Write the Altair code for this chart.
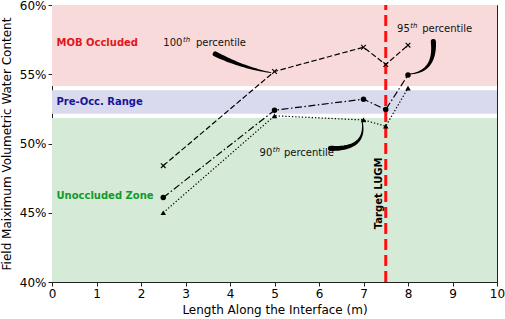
import altair as alt
import pandas as pd
import numpy as np

# ---- data ----
x_pts = [2.5, 5.0, 7.0, 7.5, 8.0]
p100 = [48.4, 55.2, 56.95, 55.7, 57.1]
p95 = [46.1, 52.4, 53.2, 52.45, 54.95]
p90 = [45.0, 52.0, 51.7, 51.25, 54.0]

band_names = ["MOB Occluded", "Pre-Occ. Range", "Unoccluded Zone"]
band_lo = [54.15, 52.15, 40.0]
band_hi = [60.0, 53.85, 51.85]
band_fill = ["#f9dada", "#dadaee", "#d5ebd8"]
band_text_color = ["#e3151c", "#15159a", "#14992a"]
band_text_y = [57.25, 53.0, 46.2]

target_x = 7.5

# annotation arrows: tail, mid, head (data coords)
arrow_ids = ["a100", "a95", "a90"]
arrow_tail = [(3.67, 56.46), (8.57, 57.35), (6.26, 49.65)]
arrow_mid = [(4.30, 55.62), (8.46, 55.67), (6.86, 50.13)]
arrow_head = [(4.92, 55.12), (8.03, 55.02), (6.96, 51.75)]

# percentile labels: anchor (right edge of number), number, offset of "percentile"
lab_num = ["100", "95", "90"]
lab_x = [2.93, 8.04, 4.95]
lab_y = [57.25, 58.24, 49.29]
lab_dx = [13.5, 12.4, 11.6]

FONT = "DejaVu Sans"

# ---- tables ----
series = pd.DataFrame({
    "x": x_pts * 3,
    "y": p100 + p95 + p90,
    "s": ["p100"] * 5 + ["p95"] * 5 + ["p90"] * 5,
})
bands = pd.DataFrame({"name": band_names, "lo": band_lo, "hi": band_hi,
                      "fill": band_fill, "x0": [0] * 3, "x1": [10] * 3})

arrow_rows = []
for aid, p0, pm, p2 in zip(arrow_ids, arrow_tail, arrow_mid, arrow_head):
    p0, pm, p2 = np.array(p0), np.array(pm), np.array(p2)
    c = 2 * pm - 0.5 * (p0 + p2)
    for t in np.linspace(0, 1, 30):
        pt = (1 - t) ** 2 * p0 + 2 * (1 - t) * t * c + t ** 2 * p2
        arrow_rows.append({"id": aid, "t": t, "x": pt[0], "y": pt[1],
                           "w": 4.4 * (1 - t) + 0.8})
arrows = pd.DataFrame(arrow_rows)

xs = alt.Scale(domain=[0, 10], nice=False, zero=False)
ys = alt.Scale(domain=[40, 60], nice=False, zero=False)

band_layer = alt.Chart(bands).mark_rect().encode(
    x=alt.X("x0:Q", scale=xs, axis=alt.Axis(values=list(range(11)),
                                          title="Length Along the Interface (m)", titlePadding=5)),
    x2="x1:Q",
    y=alt.Y("lo:Q", scale=ys, axis=alt.Axis(values=[40, 45, 50, 55, 60],
                                          labelExpr="datum.value + '%'",
                                          title="Field Maiximum Volumetric Water Content",
                                          titlePadding=6)),
    y2="hi:Q",
    color=alt.Color("fill:N", scale=None),
)

band_text = alt.Chart(pd.DataFrame({"name": band_names, "ty": band_text_y,
                                    "c": band_text_color, "tx": [0.1] * 3})).mark_text(
    align="left", baseline="middle", font=FONT, fontSize=10, fontWeight="bold"
).encode(x=alt.X("tx:Q", scale=xs), y=alt.Y("ty:Q", scale=ys), text="name:N",
         color=alt.Color("c:N", scale=None))

target_rule = alt.Chart(pd.DataFrame({"x": [target_x]})).mark_rule(
    color="#ff1010", strokeWidth=3, strokeDash=[11, 5]
).encode(x=alt.X("x:Q", scale=xs), y=alt.datum(40), y2=alt.datum(60))

target_text = alt.Chart(pd.DataFrame({"x": [7.34], "y": [46.4], "t": ["Target LUGM"]})).mark_text(
    angle=270, align="center", baseline="middle", font=FONT, fontSize=10,
    fontWeight="bold", color="black"
).encode(x=alt.X("x:Q", scale=xs), y=alt.Y("y:Q", scale=ys), text="t:N")

styles = {
    "p100": dict(dash=[5.5, 2.5], shape="M-1,-1L1,1M-1,1L1,-1", filled=False),
    "p95": dict(dash=[7, 2.5, 1.5, 2.5], shape="circle", filled=True),
    "p90": dict(dash=[1.3, 2], shape="triangle-up", filled=True),
}
series_layers = []
for s, st in styles.items():
    d = series[series.s == s]
    ln = alt.Chart(d).mark_line(color="black", strokeWidth=1.2, strokeDash=st["dash"]).encode(
        x=alt.X("x:Q", scale=xs), y=alt.Y("y:Q", scale=ys))
    pt = alt.Chart(d).mark_point(shape=st["shape"], filled=st["filled"], color="black",
                                 size=30 if st["filled"] else 22, strokeWidth=1.1,
                                 opacity=1).encode(
        x=alt.X("x:Q", scale=xs), y=alt.Y("y:Q", scale=ys))
    series_layers += [ln, pt]

arrow_layer = alt.Chart(arrows).mark_trail(color="black").encode(
    x=alt.X("x:Q", scale=xs), y=alt.Y("y:Q", scale=ys),
    size=alt.Size("w:Q", scale=None, legend=None),
    order="t:Q", detail="id:N")

labs = pd.DataFrame({"num": lab_num, "x": lab_x, "y": lab_y, "dx": lab_dx})
lab_layers = []
for i in range(3):
    d = labs.iloc[[i]]
    lab_layers.append(alt.Chart(d).mark_text(align="right", baseline="middle", font=FONT,
                                             fontSize=10, color="#111").encode(
        x=alt.X("x:Q", scale=xs), y=alt.Y("y:Q", scale=ys), text="num:N"))
    lab_layers.append(alt.Chart(d).mark_text(align="left", baseline="middle", font=FONT,
                                             fontSize=7, dx=0.5, dy=-3.5, color="#111",
                                             fontStyle="italic").encode(
        x=alt.X("x:Q", scale=xs), y=alt.Y("y:Q", scale=ys), text=alt.value("th")))
    lab_layers.append(alt.Chart(d).mark_text(align="left", baseline="middle", font=FONT,
                                             fontSize=10, dx=float(lab_dx[i]), color="#111").encode(
        x=alt.X("x:Q", scale=xs), y=alt.Y("y:Q", scale=ys), text=alt.value("percentile")))

chart = alt.layer(
    band_layer, band_text, target_rule, *series_layers, target_text, arrow_layer, *lab_layers
).properties(
    width=445, height=277,
    autosize=alt.AutoSizeParams(type="none"),
    padding={"left": 52, "top": 5, "right": 8, "bottom": 37},
).configure_view(
    stroke="#222", strokeWidth=1
).configure_axis(
    grid=False, domainColor="#222", tickColor="#222", tickSize=4, labelFont=FONT,
    titleFont=FONT, labelFontSize=12, titleFontSize=12, labelColor="black",
    titleColor="black", titleFontWeight="normal", labelPadding=2, labelFlush=False
)

chart.save("out.html", embed_options={"renderer": "svg", "actions": False})
